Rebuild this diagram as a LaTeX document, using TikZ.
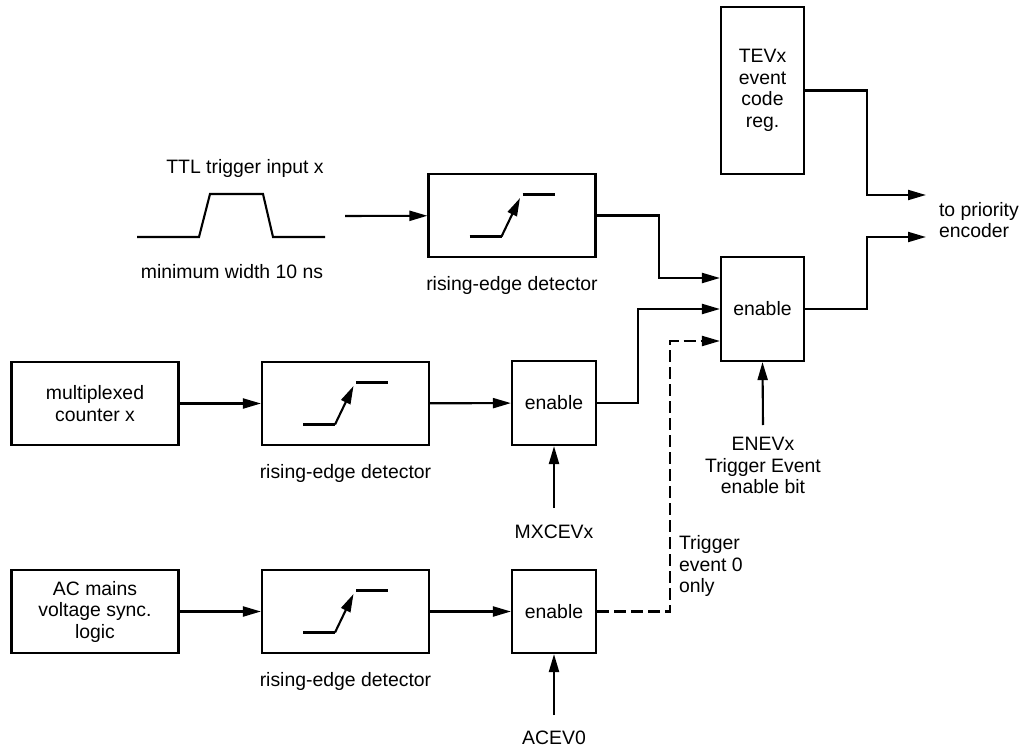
\documentclass[tikz,border=0pt]{standalone}
\usepackage{fontspec}
\setmainfont{Liberation Sans}
\usetikzlibrary{arrows.meta,positioning}

\begin{document}
\begin{tikzpicture}[
    x=1pt,y=-1pt,
    line width=2.1pt,
    font=\fontsize{19.4}{21.5}\selectfont,
    block/.style={
      draw,
      minimum width=167pt,
      minimum height=83pt,
      inner sep=0pt,
      align=center
    },
    gate/.style={
      draw,
      minimum width=84pt,
      minimum height=84pt,
      inner sep=0pt,
      align=center
    },
    note/.style={inner sep=0pt,align=center},
    arrow/.style={-{Triangle[length=18pt,width=10pt]}},
    dasharrow/.style={arrow,dash pattern=on 12pt off 5pt}
  ]
    \useasboundingbox (0,0) rectangle (1024,751);

    % event code register and trigger enable
    \node[block,minimum width=83pt,minimum height=167pt] (tev) at (762.5,90.5) {TEVx\\event\\code\\reg.};
    \node[gate,minimum width=83pt,minimum height=104pt] (en1) at (762.5,309) {enable};
    \node[note,anchor=west,align=left] (prio) at (938,220) {to priority\\encoder};
    \coordinate (out1) at (926,195);
    \coordinate (out2) at (926,237);

    % TTL trigger input
    \node[note] (ttl) at (245,168) {TTL trigger input x};
    \node[note] (minw) at (232,272) {minimum width 10 ns};
    \draw (137,237) -- (199,237) -- (210,194) -- (263,194) -- (273,237) -- (325,237);
    \coordinate (pin) at (345,216);
    \node[block] (det1) at (512,215.5) {};

    % multiplexed counter
    \node[block] (mux) at (95,403.5) {multiplexed\\counter x};
    \node[block] (det2) at (345.5,403.5) {};
    \node[gate] (en2) at (554,403) {enable};

    % AC mains
    \node[block] (ac) at (95,611.5) {AC mains\\voltage sync.\\logic};
    \node[block] (det3) at (345.5,611.5) {};
    \node[gate,minimum height=83pt] (en3) at (554,611.5) {enable};

    % labels
    \foreach \d in {det1,det2,det3}
      \node[note,below=17pt of \d] (\d lbl) {rising-edge detector};
    \node[note] (mxlbl) at (554,532) {MXCEVx};
    \node[note] (aclbl) at (554,738) {ACEV0};
    \node[note] (enlbl) at (763,465.5) {ENEVx\\Trigger Event\\enable bit};
    \node[note,anchor=west,align=left] (onlylbl) at (678,566) {Trigger\\event 0\\only};

    % edge symbols
    \foreach \d in {det1,det2,det3}{
      \draw ([shift={(-42.5,21)}]\d.center) -- ([shift={(-10.5,21)}]\d.center);
      \draw[arrow] ([shift={(-10.5,21)}]\d.center) -- ([shift={(8,-17.5)}]\d.center);
      \draw ([shift={(10.5,-21)}]\d.center) -- ([shift={(42.5,-21)}]\d.center);
    }

    % connectors
    \foreach \a/\b in {pin/det1,mux/det2,det2/en2,ac/det3,det3/en3}
      \draw[arrow] (\a) -- (\b);
    \draw[arrow] (det1.east) -- ++(62,0) |- ([yshift=31pt]en1.west);
    \draw[arrow] (en2.east) -- ++(41,0) |- (en1.west);
    \draw[dasharrow] (en3.east) -- ++(73,0) |- ([yshift=-32pt]en1.west);
    \draw[arrow] (tev.east) -- ++(62,0) |- (out1);
    \draw[arrow] (en1.east) -- ++(62,0) |- (out2);
    \draw[arrow] ([yshift=24pt]mxlbl.center) -- (en2.south);
    \draw[arrow] ([yshift=23pt]aclbl.center) -- (en3.south);
    \draw[arrow] ([yshift=40.5pt]enlbl.center) -- (en1.south);
  \end{tikzpicture}
\end{document}
